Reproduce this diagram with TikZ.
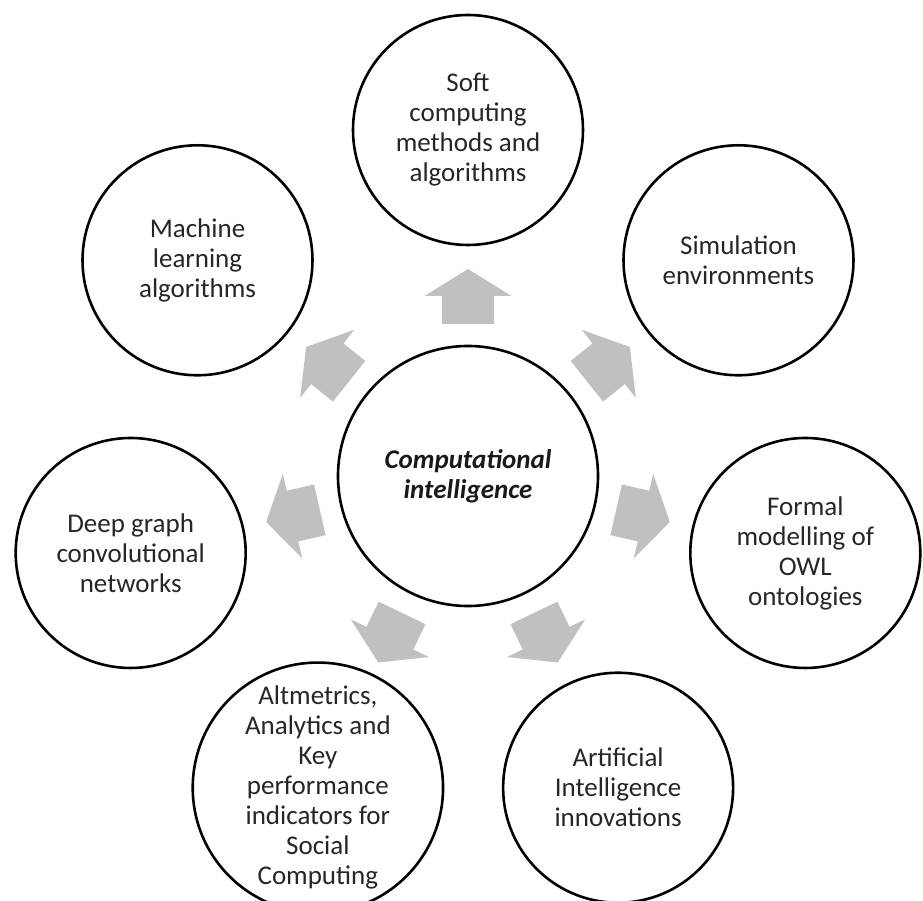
\documentclass[tikz,border=0pt]{standalone}
\usepackage{fontspec}
\setmainfont{Carlito}
\usetikzlibrary{calc}
\definecolor{arrowgray}{RGB}{191,192,192}
\tikzset{
  outer/.style={circle, draw=black, line width=2.6pt, minimum size=230pt, inner sep=0pt, align=center, font=\fontsize{27}{30}\selectfont, text=black!85},
  hub/.style={circle, draw=black, line width=2.6pt, minimum size=260pt, inner sep=0pt, align=center, font=\fontsize{27}{30}\selectfont\bfseries\itshape, text=black!90},
  blockarrow/.style={fill=arrowgray}
}
\newcommand{\blockarr}[2]{%
  \coordinate (a#1) at ($(c)!152pt!(#1)$);
  \fill[blockarrow, shift={(a#1)}, rotate=#2] (0,-26) -- (28,-26) -- (28,-43.5) -- (55,0) -- (28,43.5) -- (28,26) -- (0,26) -- cycle;
}
\begin{document}
\begin{tikzpicture}[x=1pt,y=1pt]
\useasboundingbox (-468,-425) rectangle (455,476);
\node[hub] (c) at (0,0) {Computational\\intelligence};
\node[outer] (soft) at (90:346) {Soft\\computing\\methods and\\algorithms};
\node[outer] (sim) at (38.571:346) {Simulation\\environments};
\node[outer] (formal) at (-12.857:346) {Formal\\modelling of\\OWL\\ontologies};
\node[outer] (ai) at (-64.286:346) {Artificial\\Intelligence\\innovations};
\node[outer] (alt) at (-115.714:346) {Altmetrics,\\Analytics and\\Key\\performance\\indicators for\\Social\\Computing};
\node[outer] (deep) at (-167.143:346) {Deep graph\\convolutional\\networks};
\node[outer] (ml) at (141.429:346) {Machine\\learning\\algorithms};
\blockarr{soft}{90}
\blockarr{sim}{38.571}
\blockarr{formal}{-12.857}
\blockarr{ai}{-64.286}
\blockarr{alt}{-115.714}
\blockarr{deep}{-167.143}
\blockarr{ml}{141.429}
\end{tikzpicture}
\end{document}
